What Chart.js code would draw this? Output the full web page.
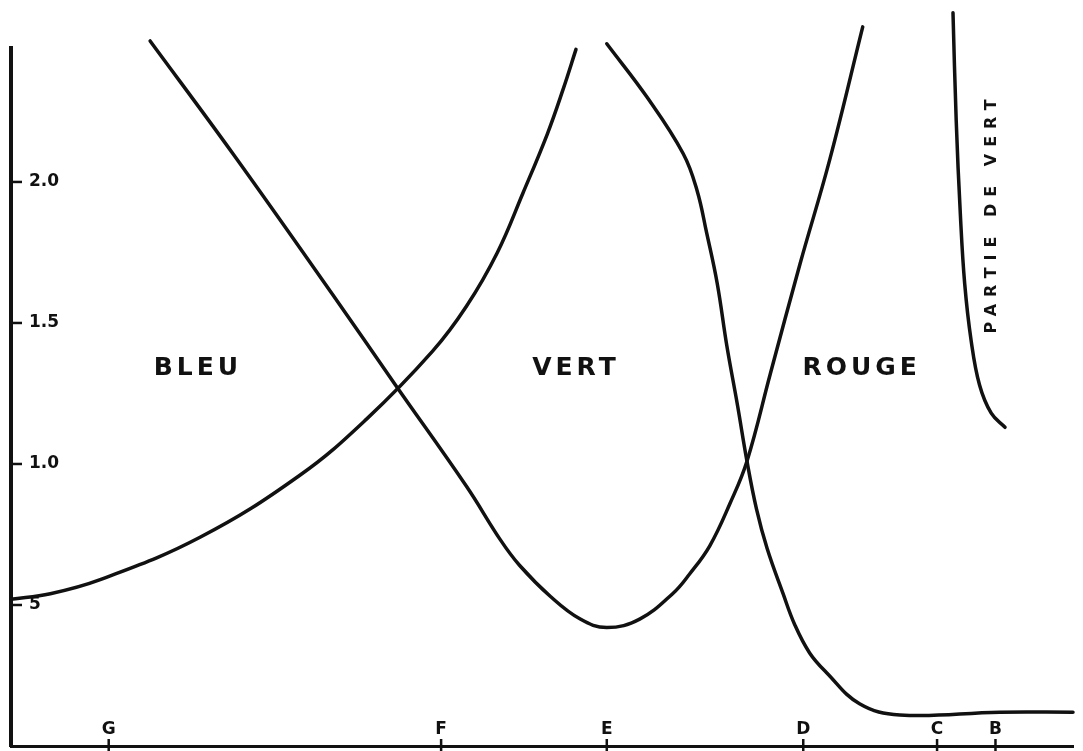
<!DOCTYPE html>
<html>
<head>
<meta charset="utf-8">
<script src="https://cdn.jsdelivr.net/npm/chart.js@4.4.1/dist/chart.umd.min.js"></script>
<style>
    html, body { margin: 0; padding: 0; background: #fff; }
    #chart { display: block; }
</style>
</head>
<body>
<canvas id="chart" width="1083" height="751"></canvas>
<script>
// positions along the spectrum (0 = left edge of the axis, 100 = right end)
const spectralLines = ["G", "F", "E", "D", "C", "B"];
const spectralPositions = [9.2, 40.5, 56.1, 74.6, 87.2, 92.7];

const yTicks = [0.5, 1.0, 1.5, 2.0];
const yTickLabels = ["5", "1.0", "1.5", "2.0"];

// curve rising from the left (bleu side)
const bleuX = [0, 3.7, 8.4, 17.8, 27.2, 33.5, 39.7, 42.9, 45.8, 48.2, 50.5, 52.0, 53.2];
const bleuY = [0.52, 0.54, 0.59, 0.74, 0.96, 1.16, 1.40, 1.56, 1.75, 1.96, 2.17, 2.33, 2.47];

// curve falling through the green and rising again into the red
const vertX = [13.1, 20.9, 30.3, 36.2, 42.9, 46.1, 47.9, 50.8, 53.6, 56.1, 59.2, 62.3, 63.9, 65.8, 67.7, 69.3, 71.5, 74.3, 77.1, 80.2];
const vertY = [2.50, 2.10, 1.60, 1.28, 0.92, 0.73, 0.64, 0.53, 0.45, 0.42, 0.45, 0.54, 0.61, 0.71, 0.86, 1.01, 1.32, 1.71, 2.08, 2.55];

// curve falling from E down to the flat tail toward B
const rougeX = [56.1, 59.9, 63.3, 64.6, 65.5, 66.5, 67.4, 68.4, 69.3, 70.2, 71.2, 72.7, 73.8, 75.2, 76.8, 79.9, 83.7, 93.1, 100];
const rougeY = [2.49, 2.30, 2.10, 1.97, 1.82, 1.64, 1.42, 1.21, 1.01, 0.84, 0.70, 0.54, 0.43, 0.33, 0.26, 0.15, 0.11, 0.12, 0.12];

// short piece at the far right
const partieX = [88.7, 89.0, 89.4, 89.8, 90.4, 91.2, 92.3, 93.6];
const partieY = [2.60, 2.22, 1.88, 1.64, 1.44, 1.28, 1.18, 1.13];

const regionNames = ["BLEU", "VERT", "ROUGE"];
const partieLabel = "PARTIE DE VERT";

const INK = "#111";
const LETTER_FONT = "DejaVu Sans";

function toPoints(xs, ys) {
    return xs.map((x, i) => ({ x, y: ys[i] }));
}

function curve(xs, ys) {
    return {
        data: toPoints(xs, ys),
        borderColor: INK,
        borderWidth: 3.5,
        borderCapStyle: "round",
        borderJoinStyle: "round",
        pointRadius: 0,
        showLine: true,
        fill: false,
        tension: 0.4,
        clip: false
    };
}

const annotations = {
    id: "annotations",
    afterDatasetsDraw(chart) {
        const { ctx, scales } = chart;
        const xScale = scales.x;
        const yScale = scales.y;
        ctx.save();
        ctx.strokeStyle = INK;
        ctx.lineWidth = 2.5;

        // tick marks on the left axis
        yTicks.forEach((v) => {
            const py = yScale.getPixelForValue(v);
            ctx.beginPath();
            ctx.moveTo(xScale.left, py);
            ctx.lineTo(xScale.left + 11, py);
            ctx.stroke();
        });

        // marks for the spectral lines
        spectralPositions.forEach((v) => {
            const px = xScale.getPixelForValue(v);
            ctx.beginPath();
            ctx.moveTo(px, yScale.bottom - 7);
            ctx.lineTo(px, yScale.bottom + 5);
            ctx.stroke();
        });

        ctx.fillStyle = INK;
        ctx.textAlign = "center";
        ctx.textBaseline = "middle";

        ctx.font = `bold 25px ${LETTER_FONT}`;
        ctx.letterSpacing = "4px";
        const regionAnchors = [[17.6, 1.34], [53.2, 1.34], [80.1, 1.34]];
        regionNames.forEach((name, i) => {
            const [ax, ay] = regionAnchors[i];
            ctx.fillText(name, xScale.getPixelForValue(ax), yScale.getPixelForValue(ay));
        });

        ctx.font = `bold 16px ${LETTER_FONT}`;
        ctx.letterSpacing = "7px";
        ctx.translate(xScale.getPixelForValue(92.4), yScale.getPixelForValue(1.89));
        ctx.rotate(-Math.PI / 2);
        ctx.fillText(partieLabel, 0, 0);
        ctx.restore();
    }
};

const chart = new Chart(document.getElementById("chart"), {
    type: "scatter",
    data: {
        datasets: [
            curve(bleuX, bleuY),
            curve(vertX, vertY),
            curve(rougeX, rougeY),
            curve(partieX, partieY)
        ]
    },
    options: {
        responsive: false,
        animation: false,
        events: [],
        layout: { padding: { left: 11, right: 10, top: 48, bottom: 5 } },
        plugins: {
            legend: { display: false },
            tooltip: { enabled: false }
        },
        scales: {
            x: {
                type: "linear",
                min: 0,
                max: 100,
                afterFit(scale) {
                    scale.height = 0;
                    scale.paddingLeft = 0;
                    scale.paddingRight = 0;
                },
                afterBuildTicks(scale) {
                    scale.ticks = spectralPositions.map((value) => ({ value }));
                },
                grid: { display: false, drawTicks: false },
                border: { display: true, color: INK, width: 3 },
                ticks: {
                    mirror: true,
                    padding: 6,
                    maxRotation: 0,
                    autoSkip: false,
                    color: INK,
                    font: { family: LETTER_FONT, size: 17, weight: "bold" },
                    callback(value) {
                        const i = spectralPositions.indexOf(value);
                        return i >= 0 ? spectralLines[i] : "";
                    }
                }
            },
            y: {
                type: "linear",
                min: 0,
                max: 2.475,
                afterFit(scale) {
                    scale.width = 0;
                    scale.paddingTop = 0;
                    scale.paddingBottom = 0;
                },
                afterBuildTicks(scale) {
                    scale.ticks = yTicks.map((value) => ({ value }));
                },
                grid: { display: false, drawTicks: false },
                border: { display: true, color: INK, width: 4 },
                ticks: {
                    mirror: true,
                    padding: 18,
                    color: INK,
                    font: { family: LETTER_FONT, size: 17, weight: "bold" },
                    callback(value) {
                        const i = yTicks.indexOf(value);
                        return i >= 0 ? yTickLabels[i] : "";
                    }
                }
            }
        }
    },
    plugins: [annotations]
});
</script>
</body>
</html>
